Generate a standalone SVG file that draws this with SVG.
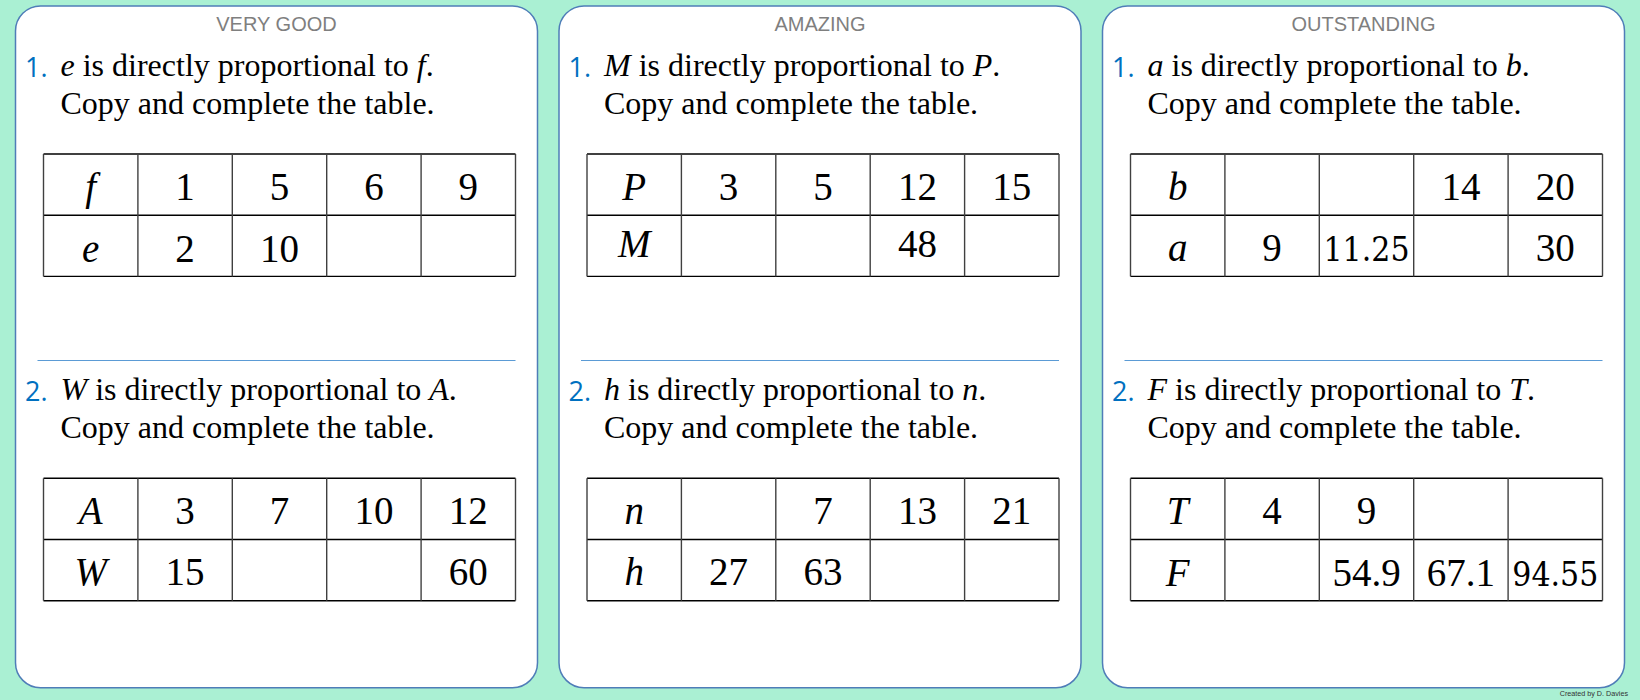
<svg xmlns="http://www.w3.org/2000/svg" width="1640" height="700" viewBox="0 0 1640 700">
<style>
.bg{fill:#AAF0D3}
.panel{fill:#fff;stroke:#4F7DB8;stroke-width:1.5}
.hdr{font-family:"Liberation Sans",Arial,sans-serif;font-size:20px;fill:#7f7f7f;text-anchor:middle}
.num{font-family:"Open Sans","Noto Sans",sans-serif;font-size:27px;fill:#0070C0}
.q{font-family:"Liberation Serif","Times New Roman",serif;font-size:32px;fill:#000}
.v{font-style:italic}
.dv{stroke:#5B9BD5;stroke-width:1.2}
.hl{stroke:#000;stroke-width:1.4}
.vl{stroke:#404040;stroke-width:1.4}
.c{font-family:"Liberation Serif","Times New Roman",serif;font-size:39px;text-anchor:middle;fill:#000}
.cv{font-family:"Liberation Serif","Times New Roman",serif;font-size:39px;font-style:italic;text-anchor:middle;fill:#000}
.cm{font-family:"DejaVu Serif",serif;font-size:33px;text-anchor:middle;fill:#000}
.credit{font-family:"Liberation Sans",Arial,sans-serif;font-size:7.2px;fill:#333;text-anchor:end}
</style>
<defs>
<g id="grid">
<line class="hl" x1="0" y1="0" x2="472" y2="0"/>
<line class="hl" x1="0" y1="61.2" x2="472" y2="61.2"/>
<line class="hl" x1="0" y1="122.4" x2="472" y2="122.4"/>
<line class="vl" x1="0" y1="0" x2="0" y2="122.4"/>
<line class="vl" x1="94.4" y1="0" x2="94.4" y2="122.4"/>
<line class="vl" x1="188.8" y1="0" x2="188.8" y2="122.4"/>
<line class="vl" x1="283.2" y1="0" x2="283.2" y2="122.4"/>
<line class="vl" x1="377.6" y1="0" x2="377.6" y2="122.4"/>
<line class="vl" x1="472" y1="0" x2="472" y2="122.4"/>
</g>
</defs>
<rect class="bg" x="0" y="0" width="1640" height="700"/>

<g id="panel-very-good">
<rect class="panel" x="15.5" y="6" width="522" height="681.7" rx="25" ry="25"/>
<text class="hdr" x="276.5" y="30.5">VERY GOOD</text>
<g id="q1-very-good">
<text class="num" x="25" y="76.5">1.</text>
<text class="q" x="60.5" y="76"><tspan class="v">e</tspan> is directly proportional to <tspan class="v">f</tspan>.</text>
<text class="q" x="60.5" y="114">Copy and complete the table.</text>
<g transform="translate(43.5,154)">
<use href="#grid"/>
<text class="cv" x="47.2" y="46">f</text>
<text class="c" x="141.6" y="46">1</text>
<text class="c" x="236" y="46">5</text>
<text class="c" x="330.4" y="46">6</text>
<text class="c" x="424.8" y="46">9</text>
<text class="cv" x="47.2" y="107.5">e</text>
<text class="c" x="141.6" y="107.5">2</text>
<text class="c" x="236" y="107.5">10</text>
</g>
</g>
<line class="dv" x1="37.5" y1="360.5" x2="515.5" y2="360.5"/>
<g id="q2-very-good">
<text class="num" x="25" y="400.5">2.</text>
<text class="q" x="60.5" y="400"><tspan class="v">W</tspan> is directly proportional to <tspan class="v">A</tspan>.</text>
<text class="q" x="60.5" y="438">Copy and complete the table.</text>
<g transform="translate(43.5,478.3)">
<use href="#grid"/>
<text class="cv" x="47.2" y="46">A</text>
<text class="c" x="141.6" y="46">3</text>
<text class="c" x="236" y="46">7</text>
<text class="c" x="330.4" y="46">10</text>
<text class="c" x="424.8" y="46">12</text>
<text class="cv" x="47.2" y="107">W</text>
<text class="c" x="141.6" y="107">15</text>
<text class="c" x="424.8" y="107">60</text>
</g>
</g>
</g>

<g id="panel-amazing">
<rect class="panel" x="559" y="6" width="522" height="681.7" rx="25" ry="25"/>
<text class="hdr" x="820" y="30.5">AMAZING</text>
<g id="q1-amazing">
<text class="num" x="568.5" y="76.5">1.</text>
<text class="q" x="604" y="76"><tspan class="v">M</tspan> is directly proportional to <tspan class="v">P</tspan>.</text>
<text class="q" x="604" y="114">Copy and complete the table.</text>
<g transform="translate(587,154)">
<use href="#grid"/>
<text class="cv" x="47.2" y="46">P</text>
<text class="c" x="141.6" y="46">3</text>
<text class="c" x="236" y="46">5</text>
<text class="c" x="330.4" y="46">12</text>
<text class="c" x="424.8" y="46">15</text>
<text class="cv" x="47.2" y="102.5">M</text>
<text class="c" x="330.4" y="102.5">48</text>
</g>
</g>
<line class="dv" x1="581" y1="360.5" x2="1059" y2="360.5"/>
<g id="q2-amazing">
<text class="num" x="568.5" y="400.5">2.</text>
<text class="q" x="604" y="400"><tspan class="v">h</tspan> is directly proportional to <tspan class="v">n</tspan>.</text>
<text class="q" x="604" y="438">Copy and complete the table.</text>
<g transform="translate(587,478.3)">
<use href="#grid"/>
<text class="cv" x="47.2" y="46">n</text>
<text class="c" x="236" y="46">7</text>
<text class="c" x="330.4" y="46">13</text>
<text class="c" x="424.8" y="46">21</text>
<text class="cv" x="47.2" y="107">h</text>
<text class="c" x="141.6" y="107">27</text>
<text class="c" x="236" y="107">63</text>
</g>
</g>
</g>

<g id="panel-outstanding">
<rect class="panel" x="1102.5" y="6" width="522" height="681.7" rx="25" ry="25"/>
<text class="hdr" x="1363.5" y="30.5">OUTSTANDING</text>
<g id="q1-outstanding">
<text class="num" x="1112" y="76.5">1.</text>
<text class="q" x="1147.5" y="76"><tspan class="v">a</tspan> is directly proportional to <tspan class="v">b</tspan>.</text>
<text class="q" x="1147.5" y="114">Copy and complete the table.</text>
<g transform="translate(1130.5,154)">
<use href="#grid"/>
<text class="cv" x="47.2" y="46">b</text>
<text class="c" x="330.4" y="46">14</text>
<text class="c" x="424.8" y="46">20</text>
<text class="cv" x="47.2" y="107">a</text>
<text class="c" x="141.6" y="107">9</text>
<text class="cm" x="236" y="106.7" textLength="86" lengthAdjust="spacingAndGlyphs">11.25</text>
<text class="c" x="424.8" y="107">30</text>
</g>
</g>
<line class="dv" x1="1124.5" y1="360.5" x2="1602.5" y2="360.5"/>
<g id="q2-outstanding">
<text class="num" x="1112" y="400.5">2.</text>
<text class="q" x="1147.5" y="400"><tspan class="v">F</tspan> is directly proportional to <tspan class="v">T</tspan>.</text>
<text class="q" x="1147.5" y="438">Copy and complete the table.</text>
<g transform="translate(1130.5,478.3)">
<use href="#grid"/>
<text class="cv" x="47.2" y="46">T</text>
<text class="c" x="141.6" y="46">4</text>
<text class="c" x="236" y="46">9</text>
<text class="cv" x="47.2" y="107.5">F</text>
<text class="c" x="236" y="107.5">54.9</text>
<text class="c" x="330.4" y="107.5">67.1</text>
<text class="cm" x="424.8" y="107.5" textLength="86" lengthAdjust="spacingAndGlyphs">94.55</text>
</g>
</g>
</g>

<text class="credit" x="1628" y="696">Created by D. Davies</text>
</svg>
